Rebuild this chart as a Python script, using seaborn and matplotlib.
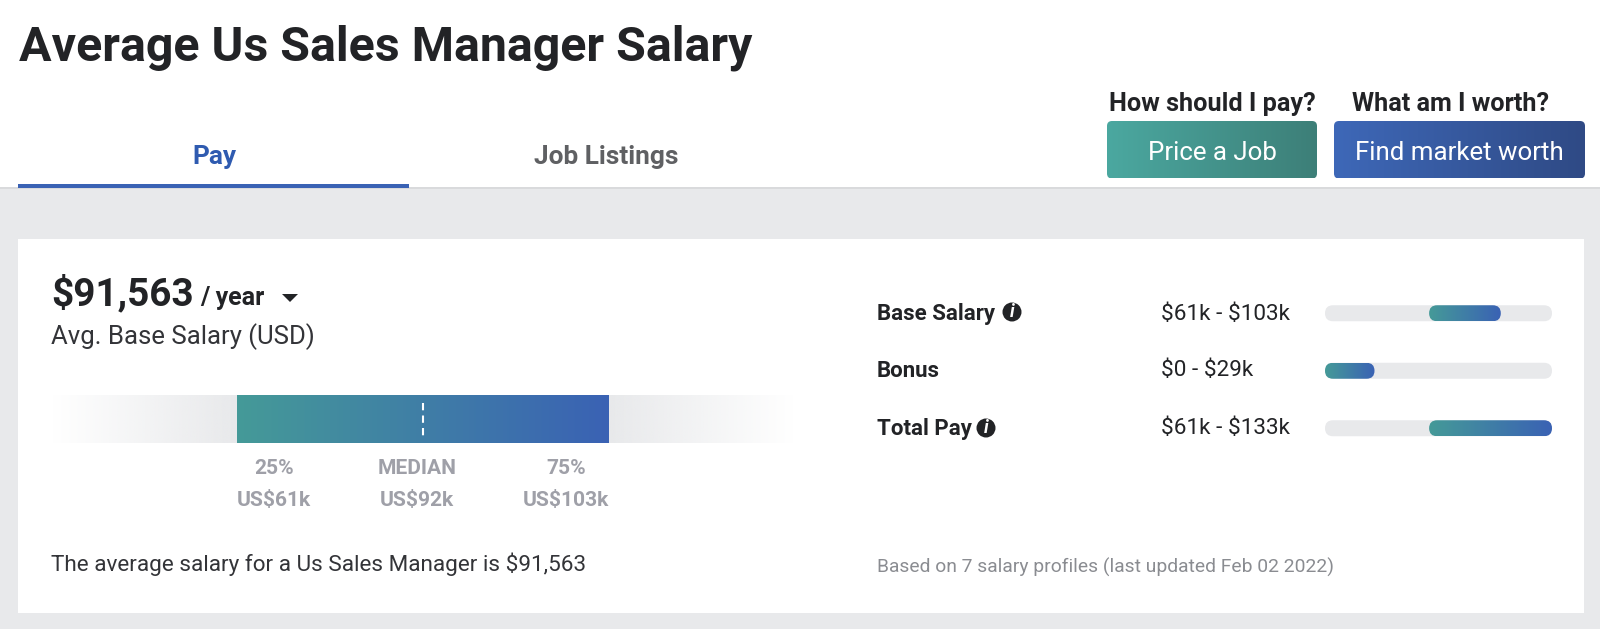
import matplotlib
matplotlib.use("Agg")
import matplotlib.pyplot as plt
import numpy as np
import pandas as pd
import seaborn as sns
from matplotlib.patches import FancyBboxPatch, Rectangle, Circle, Polygon

# values
pay_labels = ["Base Salary", "Bonus", "Total Pay"]
pay_low = [61, 0, 61]
pay_high = [103, 29, 133]
pay_ranges = ["$61k - $103k", "$0 - $29k", "$61k - $133k"]
track_max = [133, 133, 133]
pct_low = 25
pct_mid = 50
pct_high = 75
pct_names = ["25%", "MEDIAN", "75%"]
pct_values = ["US$61k", "US$92k", "US$103k"]

W, H = 1600, 629
GREY = "#e8e9eb"
DARK = "#222326"

sns.set_theme(style="white")
plt.rcParams["font.family"] = ["Roboto", "DejaVu Sans"]
plt.rcParams["text.parse_math"] = False

teal_blue = sns.color_palette("blend:#459a98,#3a62b4", as_cmap=True)
teal_btn = sns.color_palette("blend:#4ba8a0,#3d7f78", as_cmap=True)
blue_btn = sns.color_palette("blend:#3e68b8,#2f4a85", as_cmap=True)
ramp = np.linspace(0, 1, 256).reshape(1, -1)


def axes_px(x0, y0, x1, y1):
    # axes placed by pixel box, y counted from the top
    return fig.add_axes([x0 / W, 1 - y1 / H, (x1 - x0) / W, (y1 - y0) / H])


def grad_box(ax, x0, x1, y0, y1, cmap, rounding=None, aspect=1.0):
    im = ax.imshow(ramp, extent=(x0, x1, y1, y0), cmap=cmap, aspect="auto", zorder=3, vmin=0, vmax=1)
    if rounding is not None:
        clip = FancyBboxPatch((x0, y0), x1 - x0, y1 - y0, boxstyle=f"round,pad=0,rounding_size={rounding}",
                              mutation_aspect=aspect, transform=ax.transData, fc="none", ec="none")
        ax.add_patch(clip)
        im.set_clip_path(clip)
    return im


fig = plt.figure(figsize=(W / 100, H / 100), dpi=100, facecolor="white")

# page chrome in pixel coordinates
bg = fig.add_axes([0, 0, 1, 1])
bg.set_xlim(0, W)
bg.set_ylim(H, 0)
bg.axis("off")
bg.add_patch(Rectangle((0, 187), W, H - 187, fc=GREY, ec="none"))
bg.add_patch(Rectangle((0, 186.5), W, 2, fc="#d9dadc", ec="none"))
bg.add_patch(Rectangle((18, 184), 391, 3.5, fc="#3a62b4", ec="none"))
bg.add_patch(Rectangle((18, 239), 1566, 374, fc="white", ec="none"))

bg.text(19, 48, "Average Us Sales Manager Salary", fontsize=34.8, fontweight="bold", color=DARK, va="center")
bg.text(214, 157, "Pay", fontsize=18.9, fontweight="bold", color="#2f5bb0", ha="center", va="center")
bg.text(606, 157, "Job Listings", fontsize=18.9, fontweight="bold", color="#5f6063", ha="center", va="center")
bg.text(1212, 104, "How should I pay?", fontsize=18.2, fontweight="bold", color=DARK, ha="center", va="center")
bg.text(1451, 104, "What am I worth?", fontsize=18.2, fontweight="bold", color=DARK, ha="center", va="center")

grad_box(bg, 1107, 1317, 121, 178.5, teal_btn, rounding=5)
grad_box(bg, 1334, 1585, 121, 178.5, blue_btn, rounding=5)
bg.set_xlim(0, W)
bg.set_ylim(H, 0)
bg.text(1212, 153, "Price a Job", fontsize=18.6, color="white", ha="center", va="center", zorder=5)
bg.text(1459, 153, "Find market worth", fontsize=18.6, color="white", ha="center", va="center", zorder=5)

bg.text(51, 294, "$91,563", fontsize=27.9, fontweight="bold", color=DARK, va="center")
bg.text(200, 298, "/ year", fontsize=18, fontweight="bold", color=DARK, va="center")
bg.add_patch(Polygon([[282, 294], [298, 294], [290, 302]], fc=DARK, ec="none"))
bg.text(51, 337, "Avg. Base Salary (USD)", fontsize=18.5, color="#333438", va="center")

for cx, name, val in zip([274, 417, 566], pct_names, pct_values):
    bg.text(cx, 469, name, fontsize=15.1, fontweight="bold", color="#9fa0a8", ha="center", va="center")
    bg.text(cx, 501, val, fontsize=15.1, fontweight="bold", color="#9fa0a8", ha="center", va="center")

bg.text(51, 564, "The average salary for a Us Sales Manager is $91,563", fontsize=16.2, color="#333438", va="center")
bg.text(877, 567, "Based on 7 salary profiles (last updated Feb 02 2022)", fontsize=13.9, color="#8a8c91", va="center")

for y, label, rng in zip([314, 371, 429], pay_labels, pay_ranges):
    bg.text(877, y, label, fontsize=16, fontweight="bold", color=DARK, va="center")
    bg.text(1161, y, rng, fontsize=16.2, color=DARK, va="center")
for cx, cy in [(1012, 312), (986, 428)]:
    bg.add_patch(Circle((cx, cy), 9.5, fc=DARK, ec="none"))
    bg.text(cx, cy, "i", fontsize=13, fontweight="bold", fontstyle="italic", color="white", ha="center", va="center")

# percentile bar, x axis is percentile
pct_ax = axes_px(51, 395, 795, 443)
pct_ax.set_xlim(0, 100)
pct_ax.set_ylim(1, 0)
pct_ax.axis("off")
pct_ax.patch.set_alpha(0)
fade = np.zeros((1, 256, 4))
fade[..., :3] = matplotlib.colors.to_rgb(GREY)
fade[..., 3] = np.clip(np.minimum(np.linspace(0, 1, 256), np.linspace(1, 0, 256)) * 4, 0, 1)
pct_ax.imshow(fade, extent=(0, 100, 1, 0), aspect="auto", zorder=1)
grad_box(pct_ax, pct_low, pct_high, 0, 1, teal_blue)
pct_ax.plot([pct_mid, pct_mid], [0.17, 0.86], color="white", lw=1.5, ls=(0, (3.5, 2.5)), zorder=4)
pct_ax.set_xlim(0, 100)
pct_ax.set_ylim(1, 0)

# pay range rows, x axis is $k
rows = pd.DataFrame({"label": pay_labels, "track": track_max})
row_ax = axes_px(1325, 284.5, 1552, 457)
row_ax.patch.set_alpha(0)
sns.barplot(data=rows, x="track", y="label", orient="h", width=0.278, color=GREY, ax=row_ax)
row_ax.set_xlim(0, 133)
ylim = row_ax.get_ylim()
px_x = 227 / 133
px_y = 172.5 / (ylim[0] - ylim[1])
aspect = px_x / px_y
radius = 8 / px_x
for bar, low, high in zip(list(row_ax.patches), pay_low, pay_high):
    y0, h = bar.get_y(), bar.get_height()
    bar.set_visible(False)
    row_ax.add_patch(FancyBboxPatch((0, y0), 133, h, boxstyle=f"round,pad=0,rounding_size={radius}",
                                    mutation_aspect=aspect, fc=GREY, ec="none", zorder=2))
    grad_box(row_ax, low, high, y0, y0 + h, teal_blue, rounding=radius, aspect=aspect)
row_ax.set_xlim(0, 133)
row_ax.set_ylim(ylim)
row_ax.axis("off")

fig.savefig("out.png", dpi=100)
